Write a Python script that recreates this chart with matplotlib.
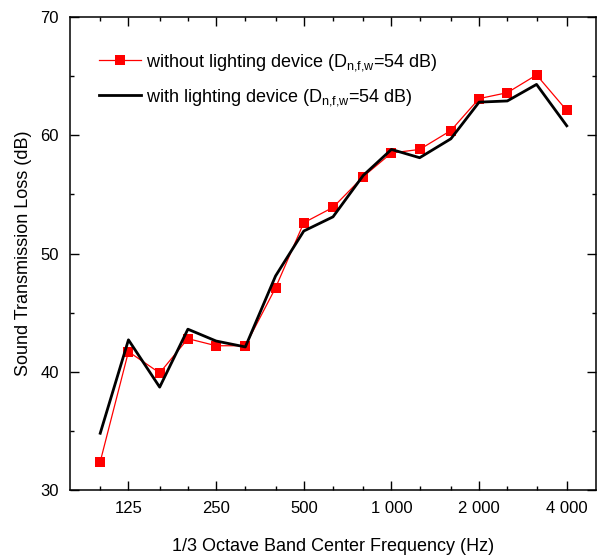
import matplotlib
matplotlib.use('Agg')
import matplotlib.pyplot as plt
from matplotlib.ticker import FixedLocator, NullFormatter, MultipleLocator

plt.rcParams['font.family'] = ['Liberation Sans', 'DejaVu Sans']
plt.rcParams['mathtext.default'] = 'regular'

# 1/3 octave band centre frequencies (Hz)
freqs = [100, 125, 160, 200, 250, 315, 400, 500, 630, 800,
         1000, 1250, 1600, 2000, 2500, 3150, 4000]
# sound transmission loss (dB)
stl_without = [32.4, 41.7, 39.9, 42.8, 42.2, 42.2, 47.1, 52.6, 53.9, 56.5,
               58.5, 58.8, 60.4, 63.1, 63.6, 65.1, 62.1]
stl_with = [34.8, 42.7, 38.7, 43.6, 42.6, 42.1, 48.1, 51.9, 53.1, 56.6,
            58.8, 58.1, 59.7, 62.8, 62.9, 64.3, 60.8]

major_ticks = [125, 250, 500, 1000, 2000, 4000]
major_labels = ['125', '250', '500', '1 000', '2 000', '4 000']
minor_ticks = [100, 160, 200, 315, 400, 630, 800, 1250, 1600, 2500, 3150]

fig = plt.figure(figsize=(6.0, 5.59), dpi=100)
ax = fig.add_axes([0.1167, 0.1234, 0.8766, 0.8462])

ax.plot(freqs, stl_without, color='red', linewidth=0.9, marker='s',
        markersize=6.5, markeredgewidth=0,
        label=r'without lighting device (D$_\mathregular{n{,}f{,}w}$=54 dB)')
ax.plot(freqs, stl_with, color='black', linewidth=2.0,
        label=r'with lighting device (D$_\mathregular{n{,}f{,}w}$=54 dB)')

ax.set_xscale('log')
ax.set_xlim(78.75, 5039.7)
ax.set_ylim(30, 70)
ax.xaxis.set_major_locator(FixedLocator(major_ticks))
ax.xaxis.set_ticklabels(major_labels)
ax.xaxis.set_minor_locator(FixedLocator(minor_ticks))
ax.xaxis.set_minor_formatter(NullFormatter())
ax.yaxis.set_major_locator(MultipleLocator(10))
ax.yaxis.set_minor_locator(MultipleLocator(5))

ax.tick_params(which='both', direction='in', top=True, right=True,
               labelsize=12, width=1.0, pad=8)
ax.tick_params(which='major', length=6.5)
ax.tick_params(which='minor', length=3.2)
for s in ax.spines.values():
    s.set_linewidth(1.1)

ax.set_xlabel('1/3 Octave Band Center Frequency (Hz)', fontsize=13, labelpad=16)
ax.set_ylabel('Sound Transmission Loss (dB)', fontsize=13, labelpad=6)

ax.legend(loc='upper left', bbox_to_anchor=(0.025, 0.96), frameon=False,
          fontsize=13, handlelength=2.3, handletextpad=0.3, labelspacing=0.75)

fig.savefig('out.png', dpi=100)
